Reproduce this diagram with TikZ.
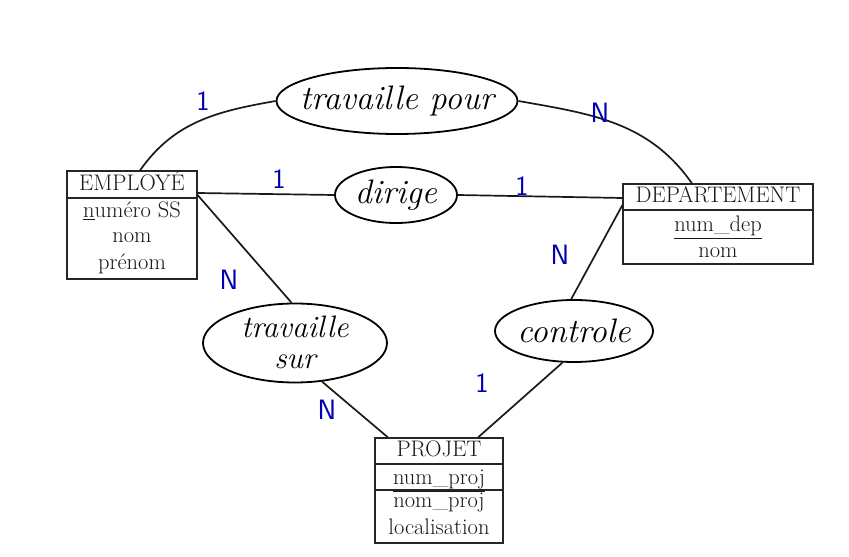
\documentclass[tikz,border=0pt]{standalone}
\usepackage{fontspec}
\usetikzlibrary{shapes.geometric}
\begin{document}
\begin{tikzpicture}[x=1pt,y=1pt,
  box/.style={draw=black!85, line width=1.1pt, inner sep=0pt},
  divline/.style={line width=1.1pt, draw=black!85},
  btxt/.style={anchor=base, inner sep=0pt, font=\fontsize{22.5}{26}\selectfont, text=black!90},
  rel/.style={draw=black, ellipse, line width=1.8pt, inner sep=0pt},
  reltxt/.style={inner sep=0pt, font=\fontsize{34}{37}\selectfont\itshape, align=center},
  conn/.style={line width=1.7pt, draw=black!90},
  card/.style={text=blue!70!black, font=\fontsize{28}{28}\sffamily\selectfont}]
\fill[white] (0,0) rectangle (849,557);
\useasboundingbox (0,0) rectangle (849,557);
% Entities
\node[box, minimum width=130, minimum height=108] (emp) at (132,332) {};
\draw[divline] (emp.west |- 0,359) -- (emp.east |- 0,359);
\node[btxt] (empt) at (132,366) {EMPLOYÉ};
\node[btxt] (empa1) at (132,339) {\underline{n}uméro SS};
\node[btxt] (empa2) at (132,314) {nom};
\node[btxt] (empa3) at (132,287) {prénom};

\node[box, minimum width=190, minimum height=80] (dep) at (718,333) {};
\draw[divline] (dep.west |- 0,347) -- (dep.east |- 0,347);
\node[btxt] (dept) at (718,354) {DEPARTEMENT};
\node[btxt] (depa1) at (718,325) {\underline{num\_dep}};
\node[btxt] (depa2) at (718,299) {nom};

\node[box, minimum width=128, minimum height=105] (proj) at (439,66.5) {};
\draw[divline] (proj.west |- 0,93) -- (proj.east |- 0,93);
\draw[divline] (proj.west |- 0,67) -- (proj.east |- 0,67);
\node[btxt] (projt) at (439,100) {PROJET};
\node[btxt] (proja1) at (439,72) {\underline{num\_proj}};
\node[btxt] (proja2) at (439,49) {nom\_proj};
\node[btxt] (proja3) at (439,22) {localisation};

% Relations
\node[rel, minimum width=241, minimum height=66] (tp) at (397,456) {};
\node[reltxt] (tpt) at (tp.center) {travaille pour};
\node[rel, minimum width=122, minimum height=56] (dir) at (396,362) {};
\node[reltxt] (dirt) at (dir.center) {dirige};
\node[rel, minimum width=184, minimum height=79] (ts) at (295,214) {};
\node[reltxt, font=\fontsize{31}{31}\selectfont\itshape] (tst) at ([yshift=1]ts.center) {travaille\\ sur};
\node[rel, minimum width=158, minimum height=62] (ctl) at (574,226) {};
\node[reltxt] (ctlt) at (ctl.center) {controle};

% Connectors
\draw[conn] ([xshift=8]emp.north) to[out=55, in=190] (tp.west);
\draw[conn] (tp.east) to[out=-10, in=125] ([xshift=-26]dep.north);
\draw[conn] ([yshift=32]emp.east) -- (dir.west);
\draw[conn] (dir.east) -- ([yshift=26]dep.west);
\draw[conn] ([yshift=30]emp.east) -- (ts.95);
\draw[conn] (ts.-55) -- ([xshift=-51]proj.north);
\draw[conn] ([yshift=19]dep.west) -- (ctl.95);
\draw[conn] (ctl.-110) -- ([xshift=39]proj.north);

% Cardinalities
\node[card] (c1) at (203,456) {1};
\node[card] (c2) at (600,444) {N};
\node[card] (c3) at (279,378) {1};
\node[card] (c4) at (522,371) {1};
\node[card] (c5) at (229,277) {N};
\node[card] (c6) at (560,302) {N};
\node[card] (c7) at (327,147) {N};
\node[card] (c8) at (482,174) {1};
\end{tikzpicture}
\end{document}
